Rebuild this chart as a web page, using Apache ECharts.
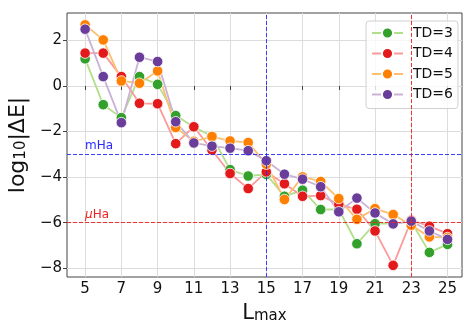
<!DOCTYPE html>
<html>
<head>
<meta charset="utf-8">
<script src="https://cdn.jsdelivr.net/npm/echarts@6/dist/echarts.min.js"></script>
<style>html,body{margin:0;padding:0;background:#fff}#c{width:465px;height:322px}</style>
</head>
<body>
<div id="c"></div>
<script>
const Lmax = [5,6,7,8,9,10,11,12,13,14,15,16,17,18,19,20,21,22,23,24,25];
const td3 = [1.19,-0.82,-1.39,0.41,0.07,-1.30,-1.80,-2.20,-3.67,-3.95,-3.88,-4.84,-4.57,-5.42,-5.41,-6.92,-6.04,-6.04,-5.95,-7.30,-6.95];
const td4 = [1.44,1.44,0.41,-0.76,-0.78,-2.53,-1.79,-2.81,-3.84,-4.50,-3.77,-4.29,-4.84,-4.81,-5.19,-5.41,-6.36,-7.87,-5.89,-6.15,-6.48];
const td5 = [2.68,2.02,0.22,0.12,0.66,-1.82,-2.43,-2.22,-2.41,-2.48,-3.43,-4.98,-3.99,-4.19,-4.94,-5.85,-5.38,-5.64,-6.11,-6.62,-6.65];
const td6 = [2.49,0.41,-1.61,1.26,1.07,-1.57,-2.50,-2.64,-2.73,-2.84,-3.28,-3.87,-4.09,-4.42,-5.52,-4.92,-5.57,-6.05,-5.93,-6.36,-6.73];
const seriesNames = ['TD=3','TD=4','TD=5','TD=6'];
const xTicks = [5,7,9,11,13,15,17,19,21,23,25];
const yTicks = [-8,-6,-4,-2,0,2];
const mHaLevel = -3, uHaLevel = -6;
const mHaL = 15, uHaL = 23;

const markerColors = ['#33a02c','#e31a1c','#ff7f00','#6a3d9a'];
const lineColors = ['#b2df8a','#fb9a99','#fdbf6f','#cab2d6'];
const FONT = 'DejaVu Sans';
const allData = [td3, td4, td5, td6];

const chart = echarts.init(document.getElementById('c'), null, {renderer:'canvas'});
const series = allData.map((d, i) => ({
  name: seriesNames[i],
  type: 'line',
  data: Lmax.map((x, j) => [x, d[j]]),
  symbol: 'circle',
  symbolSize: 10.5,
  showAllSymbol: true,
  lineStyle: {color: lineColors[i], width: 1.8},
  itemStyle: {color: markerColors[i], borderColor: '#fff', borderWidth: 0.8},
  emphasis: {disabled: true},
  animation: false,
  z: 3
}));
function refSeries(color, xv, yv, text) {
  return {
    type: 'line', data: [], silent: true, animation: false, z: 2,
    itemStyle: {color: color},
    markLine: {
      silent: true, symbol: 'none', animation: false,
      label: {show: false},
      lineStyle: {color: color, type: [4, 2], width: 1, opacity: 0.9},
      data: [{xAxis: xv}, {yAxis: yv}]
    },
    markPoint: {
      silent: true, animation: false,
      symbol: 'circle', symbolSize: 0,
      data: [{coord: [Lmax[0], yv]}],
      label: {show: true, formatter: text, color: color, fontSize: 12, fontFamily: FONT, position: [0, -14],
        rich: {i: {fontStyle: 'italic', color: color, fontSize: 12, fontFamily: FONT}}}
    }
  };
}
series.push(refSeries('#2a2aff', mHaL, mHaLevel, 'mHa'));
series.push(refSeries('#ee2222', uHaL, uHaLevel, '{i|μ}Ha'));

chart.setOption({
  animation: false,
  grid: {left: 67, right: 3, top: 13, bottom: 45, show: true, borderColor: '#444', borderWidth: 1,
    backgroundColor: 'transparent', containLabel: false, outerBoundsMode: 'none'},
  legend: {
    data: seriesNames, left: 366, top: 21, orient: 'vertical',
    itemWidth: 31, itemHeight: 14, itemGap: 6.5,
    padding: [5, 5, 7, 5],
    borderColor: '#d0d0d0', borderWidth: 1, borderRadius: 3,
    backgroundColor: 'rgba(255,255,255,0.8)',
    textStyle: {fontSize: 14, fontFamily: FONT, color: '#111', padding: [0,0,0,5]},
    selectedMode: false
  },
  xAxis: {
    type: 'value', min: 4, max: 25.8,
    name: '{a|L}{b|max}', nameLocation: 'middle', nameGap: 25,
    nameTextStyle: {rich: {
      a: {fontSize: 21, fontFamily: FONT, color: '#111', lineHeight: 22, verticalAlign: 'bottom'},
      b: {fontSize: 15, fontFamily: FONT, color: '#111', lineHeight: 8, verticalAlign: 'bottom'}
    }},
    axisLine: {show: false},
    axisTick: {show: true, customValues: xTicks, length: 4, inside: false, lineStyle: {color: '#444'}},
    axisLabel: {customValues: xTicks, fontSize: 15, fontFamily: FONT, color: '#111', margin: 5},
    splitLine: {show: true, lineStyle: {color: '#dcdcdc', width: 1}}
  },
  yAxis: {
    type: 'value', min: -8.38, max: 3.2,
    name: '{a|log}{b|10}{a||ΔE|}', nameLocation: 'middle', nameGap: 30, nameRotate: 90,
    nameTextStyle: {rich: {
      a: {fontSize: 22, fontFamily: FONT, color: '#111', lineHeight: 24, verticalAlign: 'bottom'},
      b: {fontSize: 15, fontFamily: FONT, color: '#111', lineHeight: 8, verticalAlign: 'bottom'}
    }},
    axisLine: {show: false},
    axisTick: {show: true, customValues: yTicks, length: 4, inside: false, lineStyle: {color: '#444'}},
    axisLabel: {customValues: yTicks, fontSize: 15, fontFamily: FONT, color: '#111', margin: 5,
      formatter: v => String(v).replace('-', '\u2212')},
    splitLine: {show: true, lineStyle: {color: '#dcdcdc', width: 1}}
  },
  series: series
});
</script>
</body>
</html>
